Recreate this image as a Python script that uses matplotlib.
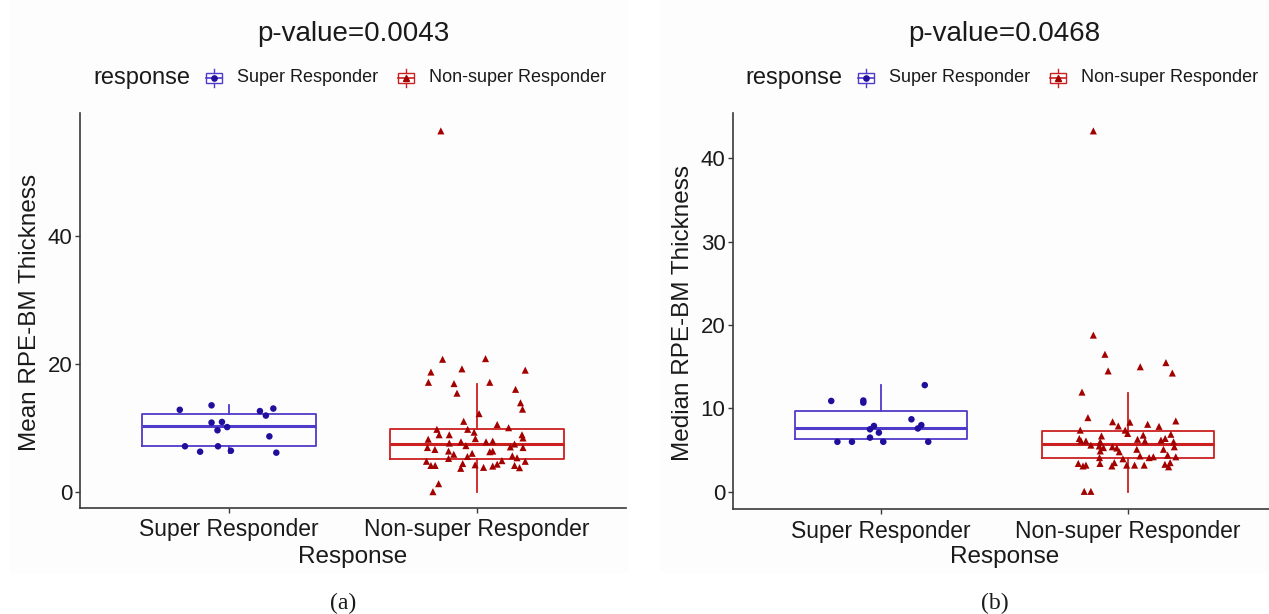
import matplotlib
matplotlib.use("Agg")
import matplotlib.pyplot as plt
from matplotlib.patches import Rectangle
from matplotlib.lines import Line2D

plt.rcParams['font.family'] = ['Liberation Sans', 'DejaVu Sans']

# ---------------- data ----------------
categories = ['Super Responder', 'Non-super Responder']
legend_title = 'response'
x_title = 'Response'
titles = ['p-value=0.0043', 'p-value=0.0468']
y_titles = ['Mean RPE-BM Thickness', 'Median RPE-BM Thickness']
panel_tags = ['(a)', '(b)']
yticks_a = [0, 20, 40]
yticks_b = [0, 10, 20, 30, 40]

# Panel (a): mean thickness
mean_super = [12.8, 13.5, 12.6, 13.0, 11.9, 10.8, 10.9, 9.6, 10.1, 8.65,
              7.1, 6.25, 7.1, 6.4, 6.1]
mean_super_jit = [-0.198, -0.070, 0.125, 0.179, 0.149, -0.070, -0.028, -0.046,
                  -0.007, 0.163, -0.177, -0.116, -0.044, 0.008, 0.191]
mean_non = [20.7, 20.8, 18.7, 19.2, 19.0, 17.1, 16.9, 17.1, 15.4, 16.0,
            13.9, 12.9, 12.2, 11.0, 10.5, 10.0, 9.75, 9.75, 8.9, 8.9,
            9.3, 8.3, 8.9, 8.4, 8.2, 6.9, 6.6, 7.6, 7.8, 7.2,
            7.8, 7.9, 7.0, 7.45, 6.9, 6.35, 5.85, 6.0, 6.25, 6.35,
            5.2, 5.5, 5.6, 5.3, 4.75, 4.1, 4.1, 4.4, 3.65, 4.2,
            3.8, 4.0, 4.3, 4.85, 4.1, 3.75, 4.75, 1.25, 0.0, 56.4]
mean_non_jit = [-0.139, 0.034, -0.186, -0.061, 0.194, -0.196, -0.093, 0.051, -0.081, 0.155,
                0.175, 0.183, 0.008, -0.054, 0.081, 0.127, -0.162, -0.038, -0.153, -0.112,
                -0.012, -0.007, 0.181, 0.185, -0.197, -0.200, -0.170, -0.112, -0.065, -0.045,
                0.036, 0.063, 0.134, 0.151, 0.185, -0.115, -0.094, -0.020, 0.051, 0.063,
                -0.115, -0.039, 0.142, 0.161, -0.204, -0.186, -0.169, -0.058, -0.066, -0.008,
                0.026, 0.063, 0.081, 0.100, 0.151, 0.171, 0.194, -0.155, -0.178, -0.146]
mean_box_super = dict(whislo=6.1, q1=7.15, med=10.25, q3=12.1, whishi=13.5)
mean_box_non = dict(whislo=0.0, q1=5.1, med=7.4, q3=9.8, whishi=16.8)

# Panel (b): median thickness
median_super = [10.9, 10.95, 10.7, 12.8, 8.7, 7.9, 7.5, 7.1, 6.5, 7.6,
                8.0, 6.0, 6.0, 6.0, 6.0]
median_super_jit = [-0.202, -0.072, -0.072, 0.177, 0.123, -0.029, -0.045, -0.009,
                    -0.045, 0.149, 0.163, -0.177, -0.118, 0.009, 0.191]
median_non = [18.8, 16.5, 14.5, 15.0, 15.5, 14.25, 11.96, 8.9, 8.4, 7.9,
              8.35, 8.1, 7.85, 8.5, 7.4, 7.4, 7.0, 6.8, 6.9, 6.4,
              6.1, 6.1, 6.7, 6.0, 6.3, 6.1, 6.2, 6.4, 6.0, 5.6,
              5.5, 5.3, 5.4, 5.25, 4.8, 5.1, 5.1, 5.4, 4.9, 4.1,
              3.96, 4.3, 4.1, 4.2, 4.4, 4.2, 3.4, 3.1, 3.2, 3.4,
              3.1, 3.5, 3.2, 3.2, 3.2, 3.3, 3.0, 3.5, 0.05, 0.05, 43.3]
median_non_jit = [-0.140, -0.093, -0.080, 0.050, 0.154, 0.180, -0.186, -0.162, -0.062, -0.039,
                  0.008, 0.080, 0.126, 0.194, -0.193, -0.011, -0.001, 0.062, 0.174, -0.197,
                  -0.190, -0.170, -0.107, -0.112, 0.039, 0.069, 0.134, 0.151, 0.185, -0.150,
                  -0.116, -0.099, -0.063, -0.045, -0.035, 0.036, 0.144, 0.188, -0.112, -0.115,
                  -0.020, 0.049, 0.086, 0.103, 0.161, 0.194, -0.201, -0.182, -0.170, -0.113,
                  -0.065, -0.055, -0.005, 0.027, 0.066, 0.150, 0.165, 0.171, -0.177, -0.150, -0.140]
median_box_super = dict(whislo=6.0, q1=6.3, med=7.7, q3=9.72, whishi=12.85)
median_box_non = dict(whislo=0.0, q1=4.0, med=5.72, q3=7.25, whishi=11.9)

# ---------------- style ----------------
W, H = 1269, 614
BLUE_BOX = '#4f3bc9'
BLUE_PT = '#1f0f9c'
RED_BOX = '#cc2020'
RED_PT = '#a30000'
AXC = '#3a3a3a'
TXT = '#1a1a1a'

fig = plt.figure(figsize=(W / 100, H / 100), dpi=100)


def fx(px):
    return px / W


def fy(py):
    return 1 - py / H


panels = [
    dict(left=80, right=626, bottom=508, top=113, ylim=(-2.55, 59.2), yticks=yticks_a,
         sup=mean_super, supj=mean_super_jit, non=mean_non, nonj=mean_non_jit,
         bsup=mean_box_super, bnon=mean_box_non, shift=0, bg=(10, 629)),
    dict(left=733, right=1276, bottom=509.3, top=113, ylim=(-2.1, 45.45), yticks=yticks_b,
         sup=median_super, supj=median_super_jit, non=median_non, nonj=median_non_jit,
         bsup=median_box_super, bnon=median_box_non, shift=652, bg=(660, 1269)),
]

for i, p in enumerate(panels):
    # faint panel background
    fig.add_artist(Rectangle((fx(p['bg'][0]), fy(573)), fx(p['bg'][1] - p['bg'][0]), 573 / H,
                             transform=fig.transFigure, facecolor='#fdfdfd', edgecolor='none',
                             zorder=-10))
    ax = fig.add_axes([fx(p['left']), fy(p['bottom']), fx(p['right'] - p['left']),
                       (p['bottom'] - p['top']) / H])
    ax.set_facecolor('none')

    for pos, stats, col in [(1, p['bsup'], BLUE_BOX), (2, p['bnon'], RED_BOX)]:
        st = dict(stats)
        st['fliers'] = []
        ax.bxp([st], positions=[pos], widths=0.7, showfliers=False, showcaps=False,
               manage_ticks=False,
               boxprops=dict(color=col, linewidth=1.3),
               whiskerprops=dict(color=col, linewidth=1.3),
               medianprops=dict(color=col, linewidth=2.2))

    ax.scatter([1 + j for j in p['supj']], p['sup'], s=22, marker='o', color=BLUE_PT,
               edgecolors='none', zorder=5)
    ax.scatter([2 + j for j in p['nonj']], p['non'], s=26, marker='^', color=RED_PT,
               edgecolors='none', zorder=5)

    ax.set_xlim(0.4, 2.6)
    ax.set_ylim(*p['ylim'])
    for s in ['top', 'right']:
        ax.spines[s].set_visible(False)
    for s in ['left', 'bottom']:
        ax.spines[s].set_color(AXC)
        ax.spines[s].set_linewidth(1.2)
    ax.set_xticks([1, 2])
    ax.set_xticklabels(categories, fontsize=16.5, color=TXT)
    ax.set_yticks(p['yticks'])
    ax.set_yticklabels([str(v) for v in p['yticks']], fontsize=16, color=TXT)
    ax.tick_params(axis='both', length=3.5, width=1, color=AXC)
    ax.tick_params(axis='x', pad=4)
    ax.tick_params(axis='y', pad=2)

    # y-axis title
    cy = (p['top'] + p['bottom']) / 2 + 2
    fig.text(fx(p['left'] - 50), fy(cy), y_titles[i], rotation=90, fontsize=17.5,
             ha='center', va='center', color=TXT)
    # x-axis title
    cx = (p['left'] + min(p['right'], p['left'] + 546)) / 2
    fig.text(fx(cx), fy(557), x_title, fontsize=17.5, ha='center', va='center', color=TXT)
    # plot title
    fig.text(fx(cx), fy(34), titles[i], fontsize=20, ha='center', va='center', color=TXT)
    # panel tag
    fig.text(fx(cx - 10), fy(603), panel_tags[i], fontsize=17, ha='center', va='center',
             family='Liberation Serif', color=TXT)

    # legend
    sh = p['shift']
    ly = 78
    fig.text(fx(93 + sh), fy(ly), legend_title, fontsize=17, ha='left', va='center', color=TXT)
    for kx, tx, lab, col, pcol, mk in [(214, 237, categories[0], BLUE_BOX, BLUE_PT, 'o'),
                                        (406, 429, categories[1], RED_BOX, RED_PT, '^')]:
        kx = kx + sh
        fig.add_artist(Rectangle((fx(kx - 8), fy(ly + 5)), fx(16), 10 / H,
                                 transform=fig.transFigure, facecolor='white',
                                 edgecolor=col, linewidth=1.0))
        fig.add_artist(Line2D([fx(kx - 8), fx(kx + 8)], [fy(ly), fy(ly)],
                              transform=fig.transFigure, color=col, linewidth=1.2))
        fig.add_artist(Line2D([fx(kx), fx(kx)], [fy(ly - 5), fy(ly - 9)],
                              transform=fig.transFigure, color=col, linewidth=1.0))
        fig.add_artist(Line2D([fx(kx), fx(kx)], [fy(ly + 5), fy(ly + 9)],
                              transform=fig.transFigure, color=col, linewidth=1.0))
        fig.add_artist(Line2D([fx(kx)], [fy(ly)], transform=fig.transFigure, marker=mk,
                              markersize=3.8, color=pcol, linestyle='none'))
        fig.text(fx(tx + sh), fy(ly), lab, fontsize=13, ha='left', va='center', color=TXT)

fig.savefig('out.png', dpi=100)
